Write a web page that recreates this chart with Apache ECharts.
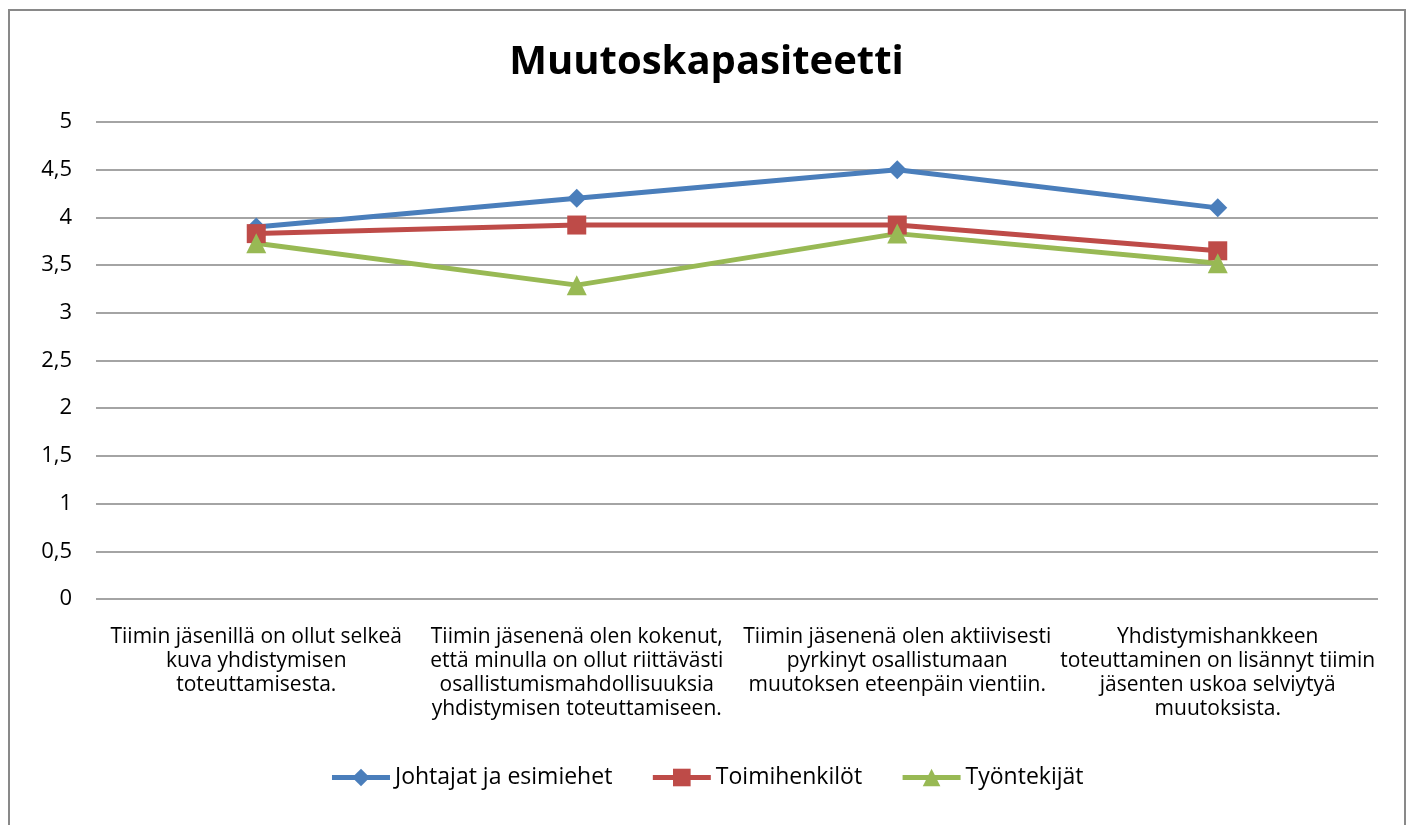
<!DOCTYPE html>
<html>
<head>
<meta charset="utf-8">
<script src="https://cdn.jsdelivr.net/npm/echarts@6/dist/echarts.min.js"></script>
<style>
  html, body { margin: 0; padding: 0; background: #fff; }
  #frame {
    position: absolute; left: 8px; top: 9px; width: 1398px; height: 830px;
    border: 2px solid #898989; box-sizing: border-box;
  }
  #chart { position: absolute; left: 0; top: 0; width: 1413px; height: 825px; }
</style>
</head>
<body>
<div id="frame"></div>
<div id="chart"></div>
<script>
// kategoriat (kysymykset)
const categories = [
  'Tiimin jäsenillä on ollut selkeä\nkuva yhdistymisen\ntoteuttamisesta.',
  'Tiimin jäsenenä olen kokenut,\nettä minulla on ollut riittävästi\nosallistumismahdollisuuksia\nyhdistymisen toteuttamiseen.',
  'Tiimin jäsenenä olen aktiivisesti\npyrkinyt osallistumaan\nmuutoksen eteenpäin vientiin.',
  'Yhdistymishankkeen\ntoteuttaminen on lisännyt tiimin\njäsenten uskoa selviytyä\nmuutoksista.'
]

// sarjojen arvot
const johtajat = [3.9, 4.2, 4.5, 4.1]
const toimihenkilot = [3.83, 3.92, 3.92, 3.65]
const tyontekijat = [3.73, 3.29, 3.83, 3.52]

const seriesNames = ['Johtajat ja esimiehet', 'Toimihenkilöt', 'Työntekijät']

const font = '"Open Sans", Lato, sans-serif'

const chart = echarts.init(document.getElementById('chart'))

const option = {
  animation: false,
  textStyle: { fontFamily: font },
  title: {
    text: 'Muutoskapasiteetti',
    left: 'center',
    top: 38,
    textStyle: { fontSize: 40, fontWeight: 'bold', color: '#000', fontFamily: font }
  },
  legend: {
    data: seriesNames,
    bottom: 31,
    left: 'center',
    itemWidth: 58,
    itemHeight: 22,
    itemGap: 38,
    lineStyle: { width: 5 },
    textStyle: { fontSize: 23, color: '#000', fontFamily: font }
  },
  grid: {
    left: 96,
    right: 35,
    top: 122,
    height: 477
  },
  xAxis: {
    type: 'category',
    data: categories,
    boundaryGap: true,
    axisLine: { show: false },
    axisTick: { show: false },
    axisLabel: {
      interval: 0,
      margin: 26,
      fontSize: 21,
      lineHeight: 24,
      color: '#000',
      align: 'center',
      fontFamily: font
    }
  },
  yAxis: {
    type: 'value',
    min: 0,
    max: 5,
    interval: 0.5,
    axisLine: { show: false },
    axisTick: { show: false },
    axisLabel: {
      margin: 24,
      fontSize: 22,
      color: '#000',
      fontFamily: font,
      formatter: v => String(v).replace('.', ',')
    },
    splitLine: { lineStyle: { color: '#868686', width: 1.5 } }
  },
  series: [
    {
      name: seriesNames[0],
      type: 'line',
      data: johtajat,
      symbol: 'diamond',
      symbolSize: 19,
      lineStyle: { color: '#4A7EBB', width: 5 },
      itemStyle: { color: '#4A7EBB' }
    },
    {
      name: seriesNames[1],
      type: 'line',
      data: toimihenkilot,
      symbol: 'rect',
      symbolSize: 19,
      lineStyle: { color: '#BE4B48', width: 5 },
      itemStyle: { color: '#BE4B48' }
    },
    {
      name: seriesNames[2],
      type: 'line',
      data: tyontekijat,
      symbol: 'triangle',
      symbolSize: 20,
      lineStyle: { color: '#98B954', width: 5 },
      itemStyle: { color: '#98B954' }
    }
  ]
}

chart.setOption(option)
</script>
</body>
</html>
